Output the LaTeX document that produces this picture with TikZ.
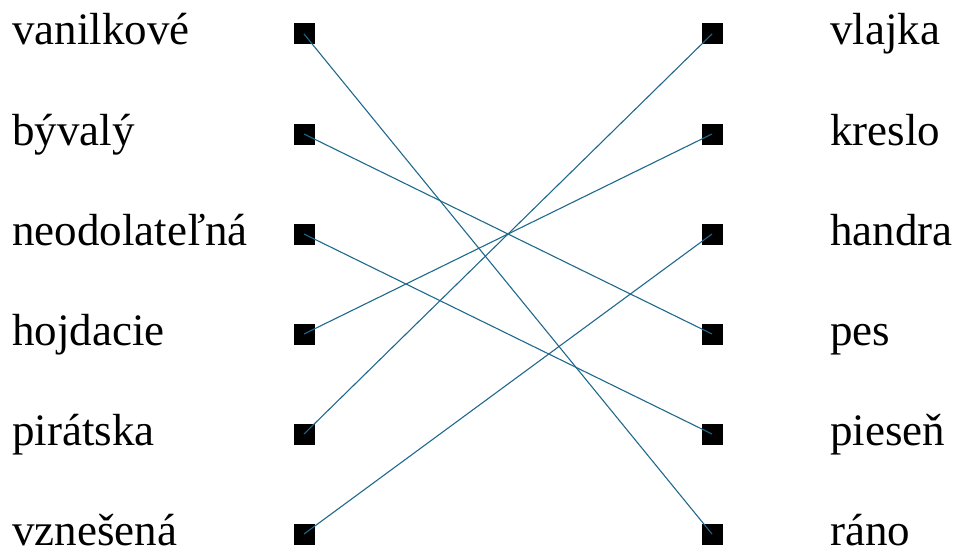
\documentclass[tikz,border=0pt]{standalone}
\usepackage{fontspec}
\setmainfont{Liberation Serif}
\definecolor{linkc}{RGB}{31,105,140}
\begin{document}
\begin{tikzpicture}[x=1pt,y=-1pt,
  word/.style={anchor=base west,inner sep=0pt,text depth=0pt,font=\fontsize{45}{52}\selectfont},
  sq/.style={fill=black,minimum size=21pt,inner sep=0pt,draw=none},
  link/.style={draw=linkc,line width=1.1pt}]
\useasboundingbox (0,0) rectangle (960,551);
\foreach \i/\t in {0/vanilkové,1/bývalý,2/neodolateľná,3/hojdacie,4/pirátska,5/vznešená}{
  \node[word] (lw\i) at (12,{45+100*\i}) {\t};
  \node[sq] (l\i) at (304,{34+100*\i}) {};
}
\foreach \i/\t in {0/vlajka,1/kreslo,2/handra,3/pes,4/pieseň,5/ráno}{
  \node[word] (rw\i) at (830,{45+100*\i}) {\t};
  \node[sq] (r\i) at (712,{34+100*\i}) {};
}
\draw[link] (l0.center) -- (r5.center);
\draw[link] (l1.center) -- (r3.center);
\draw[link] (l2.center) -- (r4.center);
\draw[link] (l3.center) -- (r1.center);
\draw[link] (l4.center) -- (r0.center);
\draw[link] (l5.center) -- (r2.center);
\end{tikzpicture}
\end{document}
